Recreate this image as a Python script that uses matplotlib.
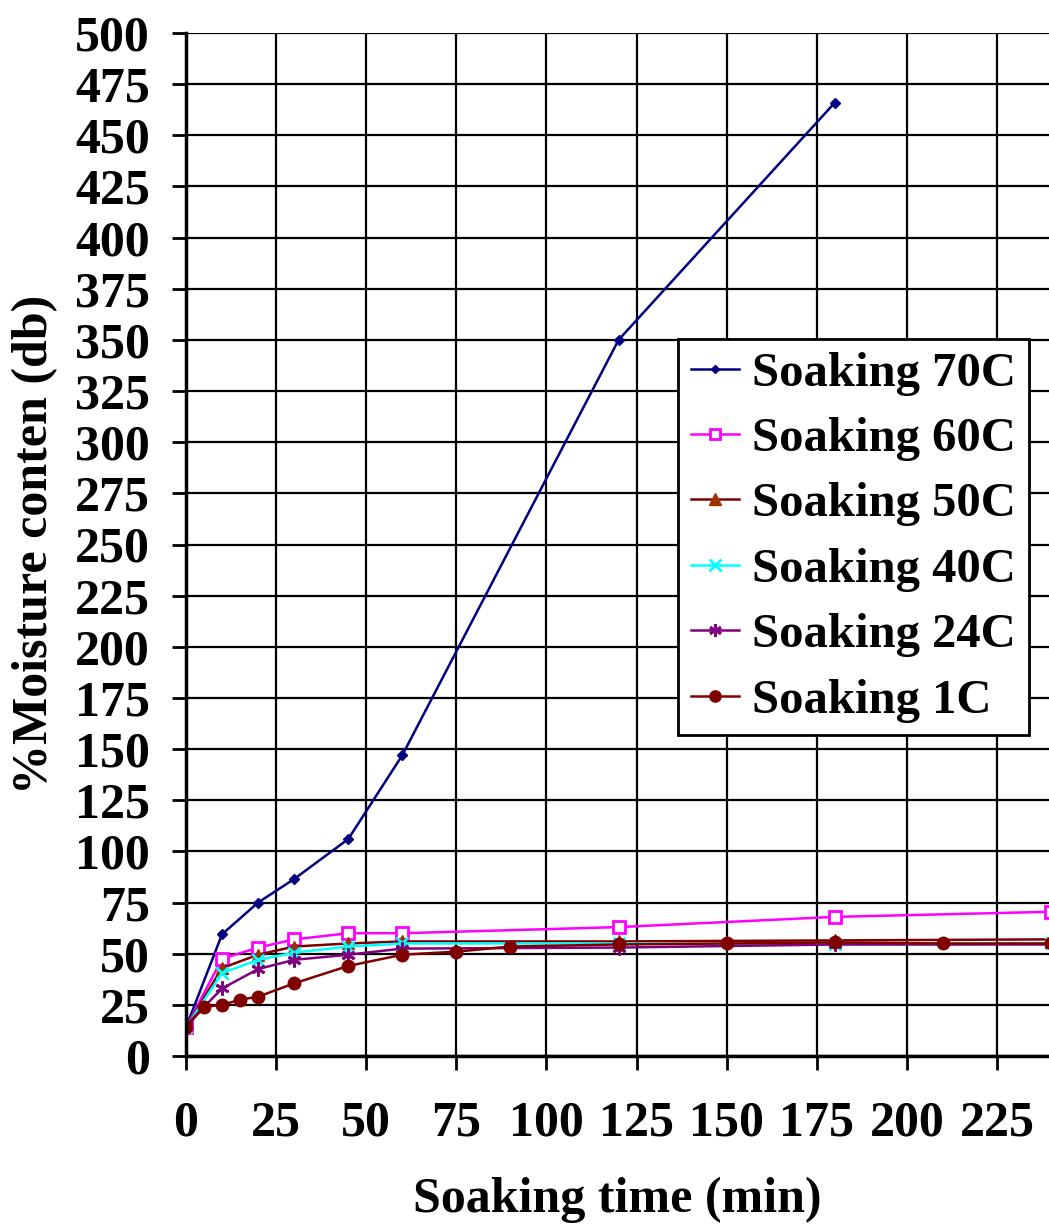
import matplotlib
matplotlib.use("Agg")
import matplotlib.pyplot as plt

plt.rcParams['font.family'] = ['Liberation Serif', 'DejaVu Serif']
plt.rcParams['font.weight'] = 'bold'

# soaking curves, % moisture (dry basis) against time in minutes
t_70 = [0, 10, 20, 30, 45, 60, 120, 180]
m_70 = [14, 59.5, 75, 86.5, 106, 147, 350, 466]

t_60 = [0, 10, 20, 30, 45, 60, 120, 180, 240]
m_60 = [14, 47.5, 53, 57, 60, 60, 63, 68, 70.5]

t_50 = [0, 10, 20, 30, 45, 60, 120, 180, 240]
m_50 = [14, 43, 49.5, 53.5, 55, 56, 56, 56.5, 57]

t_40 = [0, 10, 20, 30, 45, 60, 120, 180, 240]
m_40 = [14, 40.5, 47, 50.5, 53.5, 55, 55, 54.5, 55]

t_24 = [0, 10, 20, 30, 45, 60, 120, 180, 240]
m_24 = [15, 33, 42.5, 47, 49.5, 52.5, 53, 54.5, 54.5]

t_1 = [0, 5, 10, 15, 20, 30, 45, 60, 75, 90, 120, 150, 180, 210, 240]
m_1 = [14, 24, 25, 27.5, 29, 35.5, 44, 49.5, 51, 53.5, 54.5, 55, 55.5, 55, 55]

fig = plt.figure(figsize=(10.49, 12.26), dpi=100)
ax = fig.add_axes([186 / 1049, (1226 - 1056) / 1226, 1 - 186 / 1049, (1056 - 33) / 1226])

ax.plot(t_70, m_70, color='#000080', lw=1.8, marker='D', ms=5, label='Soaking 70C')
ax.plot(t_60, m_60, color='#FF00FF', lw=1.8, marker='s', ms=8, mfc='white', mec='#FF00FF', mew=2,
        label='Soaking 60C')
ax.plot(t_50, m_50, color='#800000', lw=1.8, marker='^', ms=9, mfc='#993300', mec='#993300',
        label='Soaking 50C')
ax.plot(t_40, m_40, color='#00FFFF', lw=1.8, marker='x', ms=9, mew=2, label='Soaking 40C')
ax.plot(t_24, m_24, color='#800080', lw=1.8, marker=(6, 2, 0), ms=10, mew=2, label='Soaking 24C')
ax.plot(t_1, m_1, color='#800000', lw=1.8, marker='o', ms=9, label='Soaking 1C')

ax.set_xlim(0, 239.4)
ax.set_ylim(0, 500)
ax.set_xticks(range(0, 226, 25))
ax.set_yticks(range(0, 501, 25))
ax.grid(True, color='black', lw=1.6)
ax.set_axisbelow(True)

for side in ['top', 'right']:
    ax.spines[side].set_visible(False)
for side in ['left', 'bottom']:
    ax.spines[side].set_linewidth(2.5)

ax.tick_params(axis='both', direction='out', length=10, width=2, labelsize=36)
ax.tick_params(axis='y', pad=16)
ax.tick_params(axis='x', pad=22)
for lab in ax.get_xticklabels() + ax.get_yticklabels():
    lab.set_fontweight('bold')

ax.set_xlabel('Soaking time (min)', fontsize=36, fontweight='bold', labelpad=22)
ax.set_ylabel('%Moisture conten (db)', fontsize=36, fontweight='bold', labelpad=12)

leg = ax.legend(loc='upper left', bbox_to_anchor=(678 / 1049, 1 - 339 / 1226),
                bbox_transform=fig.transFigure, prop={'weight': 'bold', 'size': 35},
                frameon=True, fancybox=False, framealpha=1, edgecolor='black',
                handlelength=1.0, handletextpad=0.27, labelspacing=0.44, borderpad=0.26,
                borderaxespad=0, markerscale=0.9)
leg.get_frame().set_linewidth(2)

fig.savefig('out.png', dpi=100)
